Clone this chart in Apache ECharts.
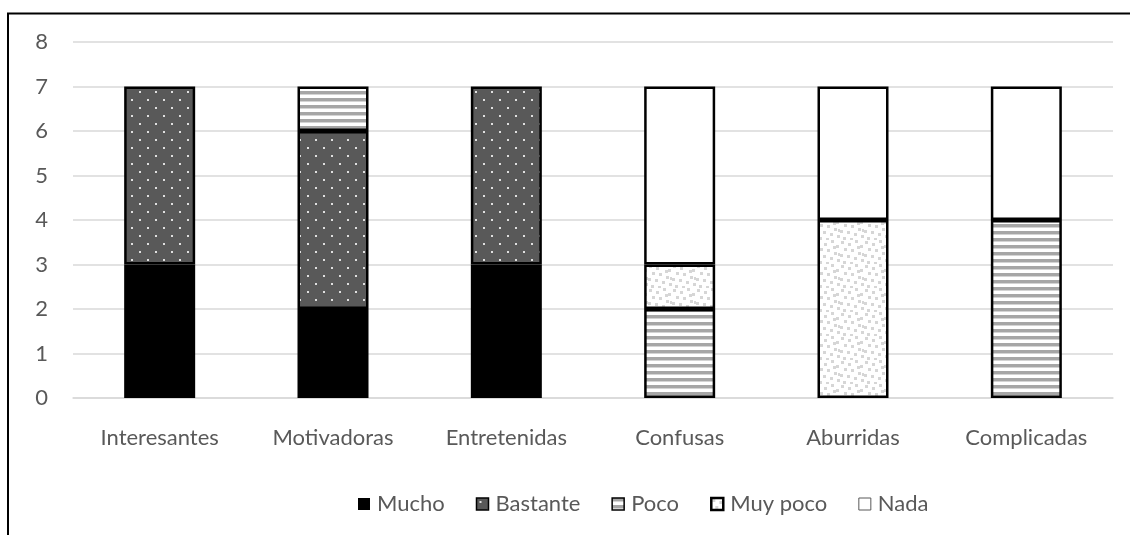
<!DOCTYPE html>
<html><head><meta charset="utf-8">
<script src="https://cdn.jsdelivr.net/npm/echarts@6/dist/echarts.min.js"></script>
<style>html,body{margin:0;padding:0;background:#fff}#c{width:1130px;height:535px}</style>
</head><body><div id="c"></div>
<script>
const categories = ['Interesantes','Motivadoras','Entretenidas','Confusas','Aburridas','Complicadas'];
const seriesNames = ['Mucho','Bastante','Poco','Muy poco','Nada'];
const mucho    = [3, 2, 3, 0, 0, 0];
const bastante = [4, 4, 4, 0, 0, 0];
const poco     = [0, 1, 0, 2, 0, 4];
const muyPoco  = [0, 0, 0, 1, 4, 0];
const nada     = [0, 0, 0, 4, 3, 3];
const yTicks = {min: 0, max: 8, interval: 1};

function tile(w, h, draw){ const c = document.createElement('canvas'); c.width = w; c.height = h; const g = c.getContext('2d'); draw(g); return {image: c, repeat: 'repeat'}; }
const patBastante = tile(16, 16, g => { g.fillStyle = '#595959'; g.fillRect(0,0,16,16); g.fillStyle = '#e0e0e0'; g.fillRect(3,3,2,2); g.fillRect(11,11,2,2); });
const patPoco = tile(8, 7, g => { g.fillStyle = '#ffffff'; g.fillRect(0,0,8,7); g.fillStyle = '#a6a6a6'; g.fillRect(0,0,8,3); g.fillStyle = '#d4d4d4'; g.fillRect(0,3,8,1); });
const patMuy = tile(24, 24, g => { g.fillStyle = '#ffffff'; g.fillRect(0,0,24,24); g.fillStyle = '#d6d6d6';
  [[1,1],[8,3],[15,0],[20,5],[4,8],[11,9],[18,12],[0,14],[7,15],[14,17],[21,19],[3,21],[10,22],[17,6],[22,13]].forEach(p => g.fillRect(p[0], p[1], 3, 3)); });
const fills = ['#000000', patBastante, patPoco, patMuy, '#ffffff'];
const values = [mucho, bastante, poco, muyPoco, nada];

const chart = echarts.init(document.getElementById('c'), null, {renderer: 'canvas'});
const txt = '#595959';
const font = 'Lato';
chart.setOption({
  animation: false,
  backgroundColor: '#fff',
  graphic: [{type: 'rect', shape: {x: 8, y: 13.5, width: 1300, height: 700}, style: {fill: 'none', stroke: '#000', lineWidth: 2}, silent: true, z: 100}],
  grid: {left: 73, right: 17, top: 42, bottom: 137},
  legend: {
    left: 353, top: 488, itemWidth: 12, itemHeight: 12, itemGap: 31,
    textStyle: {color: txt, fontSize: 22, fontFamily: font, padding: [0,0,0,2]},
    data: seriesNames.map((n, i) => ({name: n, icon: 'rect',
      itemStyle: i === 0 ? {borderWidth: 0} : i === 4 ? {borderColor: '#595959', borderWidth: 1} : {borderColor: '#000', borderWidth: i === 3 ? 2.5 : 1.5}}))
  },
  xAxis: {type: 'category', data: categories,
    axisLine: {lineStyle: {color: '#d9d9d9', width: 1.5}}, axisTick: {show: false},
    axisLabel: {color: txt, fontSize: 22, fontFamily: font, margin: 29}},
  yAxis: {type: 'value', min: yTicks.min, max: yTicks.max, interval: yTicks.interval,
    axisLine: {show: false}, axisTick: {show: false},
    splitLine: {lineStyle: {color: '#d9d9d9', width: 1.5}},
    axisLabel: {color: txt, fontSize: 22, fontFamily: font, margin: 25}},
  series: seriesNames.map((n, i) => ({
    name: n, type: 'bar', stack: 'total', barWidth: 71,
    data: values[i].map(v => v === 0 ? null : v),
    itemStyle: {color: fills[i], borderColor: '#000', borderWidth: 2.5}
  }))
});
</script></body></html>
